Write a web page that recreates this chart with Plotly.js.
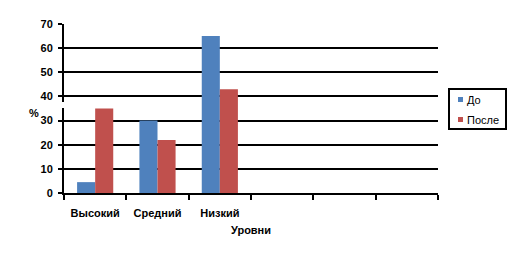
<!DOCTYPE html>
<html><head><meta charset="utf-8">
<script src="https://cdn.plot.ly/plotly-3.0.1.min.js"></script>
<style>html,body{margin:0;padding:0;background:#fff}#c{width:513px;height:257px}</style>
</head><body><div id="c"></div>
<script>
const categories = ['Высокий', 'Средний', 'Низкий'];
const emptySlots = [' ', '  ', '   '];
const seriesNames = ['До', 'После'];
const seriesColors = ['#4F81BD', '#C0504D'];
const valuesBefore = [4.5, 30, 65];
const valuesAfter = [35, 22, 43];
const yTicks = [0, 10, 20, 30, 40, 50, 60, 70];
const xTitle = 'Уровни';
const yTitle = '%';

const fontFam = '"Liberation Sans", Arial, sans-serif';
// plot area in pixels: left 64, right 438, top 24, bottom 193
const PL = 64, PR = 438, PT = 24, PB = 193;
const px = v => (v - PL) / (PR - PL);
const py = v => (PB - v) / (PB - PT);

const data = [
  {type:'bar', name:seriesNames[0], x:categories, y:valuesBefore, marker:{color:seriesColors[0]}},
  {type:'bar', name:seriesNames[1], x:categories, y:valuesAfter, marker:{color:seriesColors[1]}}
];

const shapes = [
  {type:'rect', xref:'paper', yref:'paper', x0:px(449), x1:px(506), y0:py(129), y1:py(89),
   line:{color:'#000', width:2}, fillcolor:'#fff', layer:'above'},
  {type:'rect', xref:'paper', yref:'paper', x0:px(458), x1:px(463), y0:py(102), y1:py(97),
   line:{width:0}, fillcolor:seriesColors[0], layer:'above'},
  {type:'rect', xref:'paper', yref:'paper', x0:px(458), x1:px(463), y0:py(122), y1:py(117),
   line:{width:0}, fillcolor:seriesColors[1], layer:'above'},
  {type:'rect', xref:'paper', yref:'paper', x0:px(61), x1:px(67), y0:py(108), y1:py(102),
   line:{width:0}, fillcolor:'#fff', layer:'above'}
];

const layout = {
  width:513, height:257,
  margin:{l:PL, r:513-PR, t:PT, b:257-PB, autoexpand:false},
  paper_bgcolor:'#fff', plot_bgcolor:'#fff',
  barmode:'group', bargap:0.42, bargroupgap:0,
  font:{family:fontFam, size:11, color:'#000'},
  xaxis:{
    type:'category', categoryorder:'array', categoryarray:categories.concat(emptySlots),
    range:[-0.5, 5.5], tickson:'boundaries', ticks:'outside', ticklen:5, tickwidth:2, tickcolor:'#000',
    tickangle:0, automargin:false, ticklabelstandoff:9,
    showline:true, linecolor:'#000', linewidth:2, showgrid:false, zeroline:false,
    tickfont:{family:fontFam, size:11, color:'#000', weight:'bold'},
    title:{text:'<b>'+xTitle+'</b>', font:{family:fontFam, size:11, color:'#000'}, standoff:8}
  },
  yaxis:{
    range:[0, 70], tickvals:yTicks, ticks:'outside', ticklen:4, tickwidth:2, tickcolor:'#000',
    showline:true, linecolor:'#000', linewidth:2, showgrid:true, gridcolor:'#000', gridwidth:2,
    zeroline:false, automargin:false, ticklabelstandoff:3,
    tickfont:{family:fontFam, size:11, color:'#000', weight:'bold'}
  },
  showlegend:false,
  shapes:shapes,
  annotations:[
    {text:'<b>'+yTitle+'</b>', xref:'paper', yref:'paper', x:px(34), y:py(113),
     xanchor:'center', yanchor:'middle', showarrow:false, font:{family:fontFam, size:11, color:'#000'}},
    {text:seriesNames[0], xref:'paper', yref:'paper', x:px(465), y:py(100),
     xanchor:'left', yanchor:'middle', showarrow:false, font:{family:fontFam, size:11, color:'#000'}},
    {text:seriesNames[1], xref:'paper', yref:'paper', x:px(465), y:py(120),
     xanchor:'left', yanchor:'middle', showarrow:false, font:{family:fontFam, size:11, color:'#000'}}
  ]
};
Plotly.newPlot('c', data, layout, {staticPlot:true});
</script></body></html>
